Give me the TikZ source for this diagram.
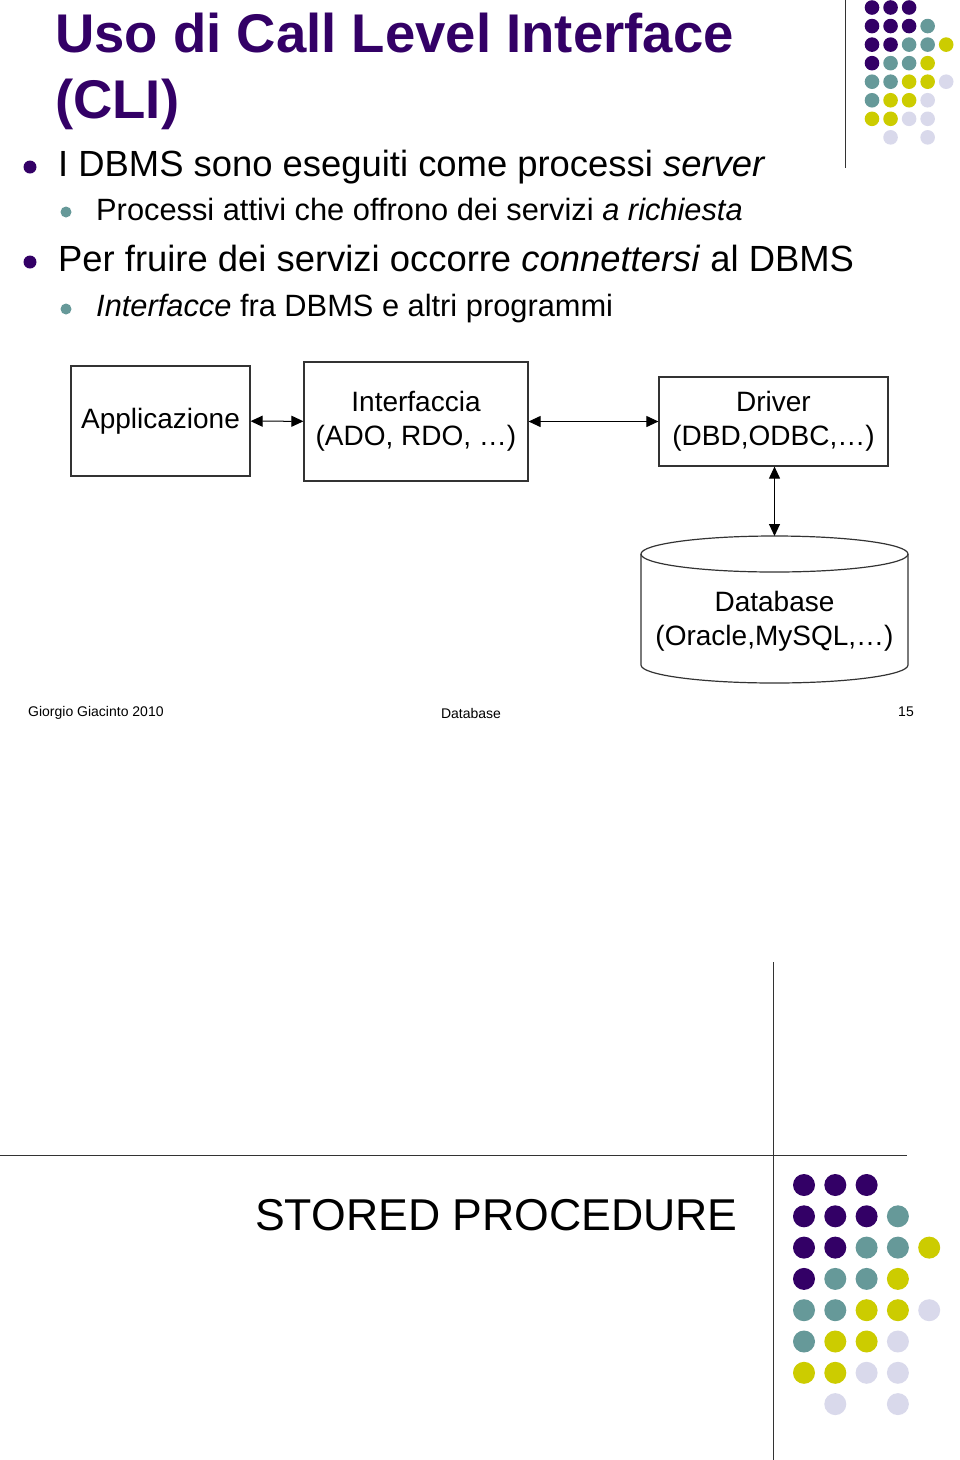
\documentclass[tikz,border=0pt]{standalone}
\usepackage{fontspec}
\setmainfont{Liberation Sans}
\usetikzlibrary{arrows.meta}

\definecolor{dotP}{HTML}{330066}
\definecolor{dotT}{HTML}{669999}
\definecolor{dotY}{HTML}{CCCC00}
\definecolor{dotL}{HTML}{D9D9EB}
\definecolor{linegray}{HTML}{333333}

\tikzset{
  titletext/.style={anchor=base west, inner sep=0pt, text=dotP, font=\fontsize{54.5}{66}\selectfont\bfseries},
  itemA/.style={anchor=base west, inner sep=0pt, font=\fontsize{36.4}{44}\selectfont},
  itemB/.style={anchor=base west, inner sep=0pt, font=\fontsize{30.8}{37}\selectfont},
  box/.style={draw=linegray, line width=1.2pt, align=center, inner sep=0pt, font=\fontsize{28}{34}\selectfont},
  link/.style={{Triangle[length=12pt,width=11pt]}-{Triangle[length=12pt,width=11pt]}, line width=1pt},
  footer/.style={anchor=base, inner sep=0pt, font=\fontsize{14}{17}\selectfont},
}

% x, y, step, radius
\newcommand{\dotgrid}[4]{%
  \foreach \cx/\cy/\cc in {0/0/dotP,1/0/dotP,2/0/dotP,
      0/1/dotP,1/1/dotP,2/1/dotP,3/1/dotT,
      0/2/dotP,1/2/dotP,2/2/dotT,3/2/dotT,4/2/dotY,
      0/3/dotP,1/3/dotT,2/3/dotT,3/3/dotY,
      0/4/dotT,1/4/dotT,2/4/dotY,3/4/dotY,4/4/dotL,
      0/5/dotT,1/5/dotY,2/5/dotY,3/5/dotL,
      0/6/dotY,1/6/dotY,2/6/dotL,3/6/dotL,
      1/7/dotL,3/7/dotL}
    \fill[\cc] ({#1+\cx*#3},{#2+\cy*#3}) circle[radius=#4pt];
}

\begin{document}
\begin{tikzpicture}[x=1pt,y=-1pt]
    \useasboundingbox (0,0) rectangle (960,1460);

    % slide 15
    \draw[linegray, line width=1pt] (845,0) -- (845,168);
    \dotgrid{872}{7.5}{18.55}{7.3}

    \node[titletext] (title1) at (55,52) {Uso di Call Level Interface};
    \node[titletext] (title2) at (55,118) {(CLI)};

    \fill[dotP] (30,167) circle[radius=6.5pt];
    \node[itemA] (it1) at (58,176) {I DBMS sono eseguiti come processi \textit{server}};
    \fill[dotT] (66,212) circle[radius=5.5pt];
    \node[itemB] (it2) at (96,220) {Processi attivi che offrono dei servizi \textit{a richiesta}};
    \fill[dotP] (30,262) circle[radius=6.5pt];
    \node[itemA] (it3) at (58,271) {Per fruire dei servizi occorre \textit{connettersi} al DBMS};
    \fill[dotT] (66,309) circle[radius=5.5pt];
    \node[itemB] (it4) at (96,316) {\textit{Interfacce} fra DBMS e altri programmi};

    \node[box, minimum width=179pt, minimum height=110pt] (app) at (160.5,421) {Applicazione};
    \node[box, minimum width=224pt, minimum height=119pt] (cli) at (416,421.5) {Interfaccia\\(ADO, RDO, …)};
    \node[box, minimum width=229pt, minimum height=89pt] (drv) at (773.5,421.5) {Driver\\(DBD,ODBC,…)};

    % database cylinder
    \draw[linegray, line width=1.2pt] (774.5,554) ellipse[x radius=133.5pt, y radius=18pt];
    \draw[linegray, line width=1.2pt] (641,554) -- (641,665)
        arc[start angle=180, end angle=360, x radius=133.5pt, y radius=18pt] -- (908,554);
    \coordinate (dbtop) at (774.5,536);
    \node[inner sep=0pt, align=center, font=\fontsize{28}{34}\selectfont] (db) at (774.5,621) {Database\\(Oracle,MySQL,…)};

    \draw[link] (app) -- (cli);
    \draw[link] (cli) -- (cli -| drv.west);
    \draw[link] (drv.south -| dbtop) -- (dbtop);

    \node[footer, anchor=base west] (f1) at (28,716) {Giorgio Giacinto 2010};
    \node[footer] (f2) at (471,718) {Database};
    \node[footer, anchor=base east] (f3) at (914,716) {15};

    % slide 16
    \draw[linegray, line width=1pt] (773,962) -- (773,1460);
    \draw[linegray, line width=1pt] (0,1155) -- (907,1155);
    \dotgrid{804}{1185}{31.3}{11}
    \node[anchor=base west, inner sep=0pt, font=\fontsize{44.6}{54}\selectfont] (sp) at (255,1230) {STORED PROCEDURE};
\end{tikzpicture}
\end{document}
